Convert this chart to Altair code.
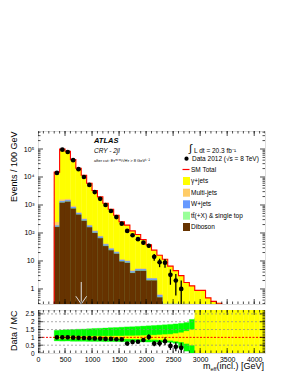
import altair as alt
import pandas as pd
import numpy as np

# ---------------- data ----------------
bin_lo = list(range(300, 3400, 100))          # 31 bins of 100 GeV
gamma_jets = [14700, 98400, 81300, 41100, 19950, 11150, 5800, 3180, 1875, 1110,
              672, 410, 240, 181, 114, 83, 53, 35.7, 21.9, 15.4, 11.4, 6.45, 4.47,
              2.98, 1.68, 1.28, 0.89, 0.89, 0.48, 0.36, 0.31]
multi_jets = [60, 200, 150, 80, 40, 20, 10, 6, 4, 2, 1.5, 1, 0.5, 0.4, 0.3, 0.2,
              0.2, 0.1, 0.05, 0.05, 0.02, 0.02, 0.01, 0.01, 0.01, 0.01, 0, 0, 0, 0, 0]
w_jets = [18, 150, 160, 90, 55, 33, 20, 12, 8, 4.5, 3, 2.2, 1.2, 1.1, 0.5, 0.6,
          0.6, 0.3, 0.3, 0.08, 0.05, 0.04, 0.02, 0.01, 0.01, 0, 0, 0, 0, 0, 0]
ttbar = [3, 20, 25, 15, 8, 5, 3, 2, 1.2, 0.7, 0.4, 0.3, 0.2, 0.2, 0.1, 0.1, 0.1,
         0.05, 0.05, 0.02, 0.02, 0.01, 0.01, 0, 0, 0, 0, 0, 0, 0, 0]
diboson = [163, 1200, 1300, 740, 450, 270, 160, 100, 65, 34, 24, 18, 9.5, 8.5,
           3.7, 4.4, 4.4, 2.0, 2.0, 0.5, 0, 0, 0, 0, 0, 0, 0, 0, 0, 0, 0]

data_x = [350, 450, 550, 650, 750, 850, 950, 1050, 1150, 1250, 1350, 1450, 1550,
          1650, 1750, 1850, 1950, 2050, 2150, 2250, 2350, 2450, 2550, 2650]
data_y = [14000, 95000, 78000, 40000, 19000, 10000, 5200, 2900, 1660, 1000, 610,
          370, 215, 118, 83, 60, 45, 35, 14, 9, 8.7, 3.2, 2.0, 1.0]
ratio_y = [1.0, 1.0, 1.0, 0.98, 0.97, 0.96, 0.95, 0.93, 0.92, 0.9, 0.9, 0.88,
           0.87, 0.6, 0.7, 0.72, 0.83, 1.02, 0.6, 0.62, 0.75, 0.45, 0.4, 0.33]

green_lo_edge = list(range(300, 3200, 100))   # 29 bins
green_lo = [0.77, 0.76, 0.76, 0.75, 0.75, 0.75, 0.74, 0.74, 0.74, 0.73, 0.73,
            0.73, 0.72, 0.72, 0.72, 0.71, 0.71, 0.7, 0.7, 0.7, 0.69, 0.68, 0.62,
            0.35, 0.12, 0.0, 0.0, 0.0, 0.0]
green_hi = [1.45, 1.47, 1.49, 1.5, 1.52, 1.53, 1.55, 1.57, 1.58, 1.6, 1.62, 1.63,
            1.65, 1.67, 1.68, 1.7, 1.72, 1.74, 1.76, 1.78, 1.8, 1.83, 1.86, 1.9,
            1.95, 2.15, 2.25, 2.4, 2.75]
yellow_lo_edge = list(range(300, 4200, 100))  # 39 bins
yellow_lo = [0.93, 0.93, 0.93, 0.93, 0.93, 0.93, 0.93, 0.92, 0.92, 0.92, 0.92,
             0.91, 0.91, 0.9, 0.9, 0.89, 0.88, 0.87, 0.86, 0.84, 0.82, 0.8, 0.75,
             0.7, 0.6, 0.5, 0, 0, 0, 0, 0, 0, 0, 0, 0, 0, 0, 0, 0]
yellow_hi = [1.07, 1.07, 1.07, 1.07, 1.07, 1.07, 1.07, 1.08, 1.08, 1.08, 1.08,
             1.09, 1.09, 1.1, 1.1, 1.11, 1.12, 1.13, 1.14, 1.16, 1.18, 1.2, 1.25,
             1.3, 1.4, 1.5, 2.75, 2.75, 2.75, 2.75, 2.75, 2.75, 2.75, 2.75, 2.75,
             2.75, 2.75, 2.75, 2.75]

arrow_x = [800]

x_major = list(range(0, 4001, 500))
x_minor = list(range(0, 4201, 100))
y_major = [1, 10, 100, 1000, 10000, 100000]
y_minor = [m * 10 ** e for e in range(-1, 6) for m in range(2, 10)]
r_major = [0, 0.5, 1, 1.5, 2, 2.5]
r_minor = [round(0.1 * i, 1) for i in range(0, 28)]
r_grid = [0.5, 1.5, 2, 2.5]

# ---------------- geometry / style ----------------
W, H_MAIN, H_RAT = 227, 173, 43
FONT = "Liberation Sans"
Y_FLOOR = 0.29
xs = alt.Scale(domain=[0, 4200], nice=False, zero=False)
ys = alt.Scale(type="log", domain=[Y_FLOOR, 440000], nice=False)
rs = alt.Scale(domain=[0, 2.75], nice=False, zero=False)

MY = alt.Axis(
    title="Events / 100 GeV", titleFont=FONT, titleFontSize=9, titleFontWeight="normal",
    titleAnchor="end", titleX=-20, titleColor="black",
    values=y_major, ticks=False, domain=False, grid=False, labelFont=FONT,
    labelFontSize=7, labelPadding=4, labelColor="black",
    labelExpr="datum.value >= 100 ? '10' + (datum.value == 100 ? '²' : datum.value == 1000 ? '³' : datum.value == 10000 ? '⁴' : '⁵') : format(datum.value, 'd')")
RX = alt.Axis(values=x_major, ticks=False, domain=False, grid=False, labelFont=FONT,
              labelFontSize=7, labelPadding=2, labelColor="black", title=None,
              labelFlush=False, format="d")
RY = alt.Axis(
    title="Data / MC", titleFont=FONT, titleFontSize=9, titleFontWeight="normal",
    titleAnchor="end", titleX=-20, titleColor="black", values=r_major, ticks=False,
    domain=False, grid=False, labelFont=FONT, labelFontSize=6.5, labelPadding=4,
    labelColor="black", format="~g")


def mX(f):
    return alt.X(f, scale=xs, axis=None)


def mY(f):
    return alt.Y(f, scale=ys, axis=MY)


def rX(f):
    return alt.X(f, scale=xs, axis=RX)


def rY(f):
    return alt.Y(f, scale=rs, axis=RY)


C_GAMMA, C_MJ, C_W, C_TT, C_DB = "#ffff00", "#ffcc66", "#6699ff", "#99ff99", "#663300"

# stacked cumulative tops
comps = [("diboson", diboson, C_DB), ("ttbar", ttbar, C_TT), ("wjets", w_jets, C_W),
         ("mj", multi_jets, C_MJ), ("gamma", gamma_jets, C_GAMMA)]
cum = np.zeros(len(bin_lo))
tops = {}
for name, vals, col in comps:
    cum = cum + np.array(vals, dtype=float)
    tops[name] = cum.copy()
total = cum.copy()

stack_layers = []
for name, vals, col in reversed(comps):
    df = pd.DataFrame({"lo": bin_lo, "hi": [b + 100 for b in bin_lo], "top": tops[name]})
    df = df[df["top"] > 0]
    stack_layers.append(
        alt.Chart(df).mark_rect(color=col, stroke=col, strokeWidth=0.3, clip=True).encode(
            x=mX("lo:Q"), x2="hi:Q", y=mY("top:Q"), y2=alt.value(H_MAIN)))

# SM total step line
edges = [300] + bin_lo + [3400, 3400]
vals = [0.05] + list(total) + [total[-1], 0.05]
sm_df = pd.DataFrame({"x": edges, "y": vals, "i": range(len(edges))})
sm_line = alt.Chart(sm_df).mark_line(color="#ff0000", strokeWidth=1.1, interpolate="step-after",
                                     clip=True).encode(
    x=mX("x:Q"), y=mY("y:Q"), order="i:Q")

# data points
dd = pd.DataFrame({"x": data_x, "y": data_y})
dd["err"] = np.sqrt(dd["y"])
dd["lo"] = np.maximum(dd["y"] - dd["err"], 0.01)
dd["hi"] = dd["y"] + dd["err"]
d_err = alt.Chart(dd).mark_rule(color="black", strokeWidth=1.3, clip=True).encode(
    x=mX("x:Q"), y=mY("lo:Q"), y2="hi:Q")
d_pts = alt.Chart(dd).mark_circle(color="black", size=22, opacity=1, clip=True).encode(
    x=mX("x:Q"), y=mY("y:Q"))

# arrow at the cut value
arr_df = pd.DataFrame({"x": arrow_x})
arrow_shaft = alt.Chart(arr_df).mark_rule(color="#dddddd", strokeWidth=1).encode(
    x=mX("x:Q"), y=alt.value(H_MAIN - 22), y2=alt.value(H_MAIN))
arr_head = pd.DataFrame({"x": [arrow_x[0] - 100, arrow_x[0], arrow_x[0] + 100],
                         "y": [0.55, Y_FLOOR, 0.55], "i": [0, 1, 2]})
arrow_head = alt.Chart(arr_head).mark_line(color="#dddddd", strokeWidth=1).encode(
    x=mX("x:Q"), y=mY("y:Q"), order="i:Q")


def frame_ticks(xf, yf, xmaj, xmin, ymaj, ymin, h, w):
    layers = []
    for vals_, ln in ((xmin, 2.5), (xmaj, 5)):
        df = pd.DataFrame({"v": vals_})
        base = alt.Chart(df).mark_rule(color="black", strokeWidth=0.7, clip=True)
        layers.append(base.encode(x=xf("v:Q"), y=alt.value(0), y2=alt.value(ln)))
        layers.append(base.encode(x=xf("v:Q"), y=alt.value(h), y2=alt.value(h - ln)))
    for vals_, ln in ((ymin, 2.5), (ymaj, 5)):
        df = pd.DataFrame({"v": vals_})
        base = alt.Chart(df).mark_rule(color="black", strokeWidth=0.7, clip=True)
        layers.append(base.encode(y=yf("v:Q"), x=alt.value(0), x2=alt.value(ln)))
        layers.append(base.encode(y=yf("v:Q"), x=alt.value(w), x2=alt.value(w - ln)))
    return layers


def txt(s, x, y, size=6.5, style="normal", weight="normal", align="left", color="black"):
    return alt.Chart(pd.DataFrame({"t": [s]})).mark_text(
        font=FONT, fontSize=size, fontStyle=style, fontWeight=weight, align=align,
        baseline="middle", color=color).encode(text="t:N", x=alt.value(x), y=alt.value(y))


LX = 153
texts = [
    txt("ATLAS", 56, 9.5, size=7.5, style="italic", weight="bold"),
    txt("CRY - 2jl", 56, 19.5, size=6.5, style="italic"),
    txt("after cut: Eᴛᵐⁱˢˢ/√Hᴛ > 8 GeV¹ᐟ²", 56, 29.5, size=4),
    txt("∫", LX - 2, 18, size=11),
    txt("L dt = 20.3 fb⁻¹", LX + 3, 19.5, size=6.5),
    txt("Data 2012 (√s = 8 TeV)", LX + 1, 28, size=6.5),
    txt("SM Total", LX, 38.5),
    txt("γ+jets", LX, 50),
    txt("Multi-jets", LX, 61.7),
    txt("W+jets", LX, 73.3),
    txt("tt̄(+X) & single top", LX, 84.7),
    txt("Diboson", LX, 96),
]
leg_pt = alt.Chart(pd.DataFrame({"a": [0]})).mark_circle(color="black", size=18, opacity=1).encode(
    x=alt.value(148.5), y=alt.value(27.7))
leg_line = alt.Chart(pd.DataFrame({"a": [0]})).mark_rule(color="#ff0000", strokeWidth=1.2).encode(
    x=alt.value(144.5), x2=alt.value(151.5), y=alt.value(38.5))
leg_boxes = []
for yy, col in ((50, C_GAMMA), (61.7, C_MJ), (73.3, C_W), (84.7, C_TT), (96, C_DB)):
    leg_boxes.append(alt.Chart(pd.DataFrame({"a": [0]})).mark_rect(color=col).encode(
        x=alt.value(145), x2=alt.value(152), y=alt.value(yy - 4), y2=alt.value(yy + 4)))

main = alt.layer(
    *stack_layers, sm_line, arrow_shaft, arrow_head, d_err, d_pts,
    *frame_ticks(mX, mY, x_major, x_minor, y_major, y_minor, H_MAIN, W),
    *texts, leg_pt, leg_line, *leg_boxes
).properties(width=W, height=H_MAIN)

# ---------------- ratio panel ----------------
gdf = pd.DataFrame({"lo": green_lo_edge, "hi": [b + 100 for b in green_lo_edge],
                    "b": green_lo, "t": green_hi})
ydf = pd.DataFrame({"lo": yellow_lo_edge, "hi": [b + 100 for b in yellow_lo_edge],
                    "b": yellow_lo, "t": yellow_hi})
g_band = alt.Chart(gdf).mark_rect(color="#00ff00", stroke="#00ff00", strokeWidth=0.3, clip=True).encode(
    x=rX("lo:Q"), x2="hi:Q", y=rY("b:Q"), y2="t:Q")
y_band = alt.Chart(ydf).mark_rect(color="#ffff00", stroke="#ffff00", strokeWidth=0.3, clip=True).encode(
    x=rX("lo:Q"), x2="hi:Q", y=rY("b:Q"), y2="t:Q")
grid = alt.Chart(pd.DataFrame({"v": r_grid})).mark_rule(color="#888888", strokeWidth=0.7,
                                                        strokeDash=[2, 2]).encode(y=rY("v:Q"))
one = alt.Chart(pd.DataFrame({"v": [1]})).mark_rule(color="#ff0000", strokeWidth=1,
                                                    strokeDash=[2, 1.5]).encode(y=rY("v:Q"))
rd = pd.DataFrame({"x": data_x, "r": ratio_y, "n": data_y})
rd["e"] = rd["r"] / np.sqrt(rd["n"])
rd["lo"] = np.maximum(rd["r"] - rd["e"], 0)
rd["hi"] = rd["r"] + rd["e"]
r_err = alt.Chart(rd).mark_rule(color="black", strokeWidth=1.3, clip=True).encode(
    x=rX("x:Q"), y=rY("lo:Q"), y2="hi:Q")
r_pts = alt.Chart(rd).mark_circle(color="black", size=22, opacity=1, clip=True).encode(
    x=rX("x:Q"), y=rY("r:Q"))

xt = [
    txt("m", 165, H_RAT + 13, size=9),
    txt("eff", 172.5, H_RAT + 15.5, size=5.5),
    txt("(incl.) [GeV]", W - 1, H_RAT + 13, size=9, align="right"),
]

ratio = alt.layer(
    g_band, y_band, grid, one, r_err, r_pts,
    *frame_ticks(rX, rY, x_major, x_minor, r_major, r_minor, H_RAT, W), *xt
).properties(width=W, height=H_RAT)

chart = alt.vconcat(main, ratio, spacing=2).properties(
    padding={"left": 0, "top": 122, "right": 5, "bottom": 0}
).configure_view(stroke="black", strokeWidth=1).configure(background="white")

chart.save("out.html", embed_options={"renderer": "svg", "actions": False})
